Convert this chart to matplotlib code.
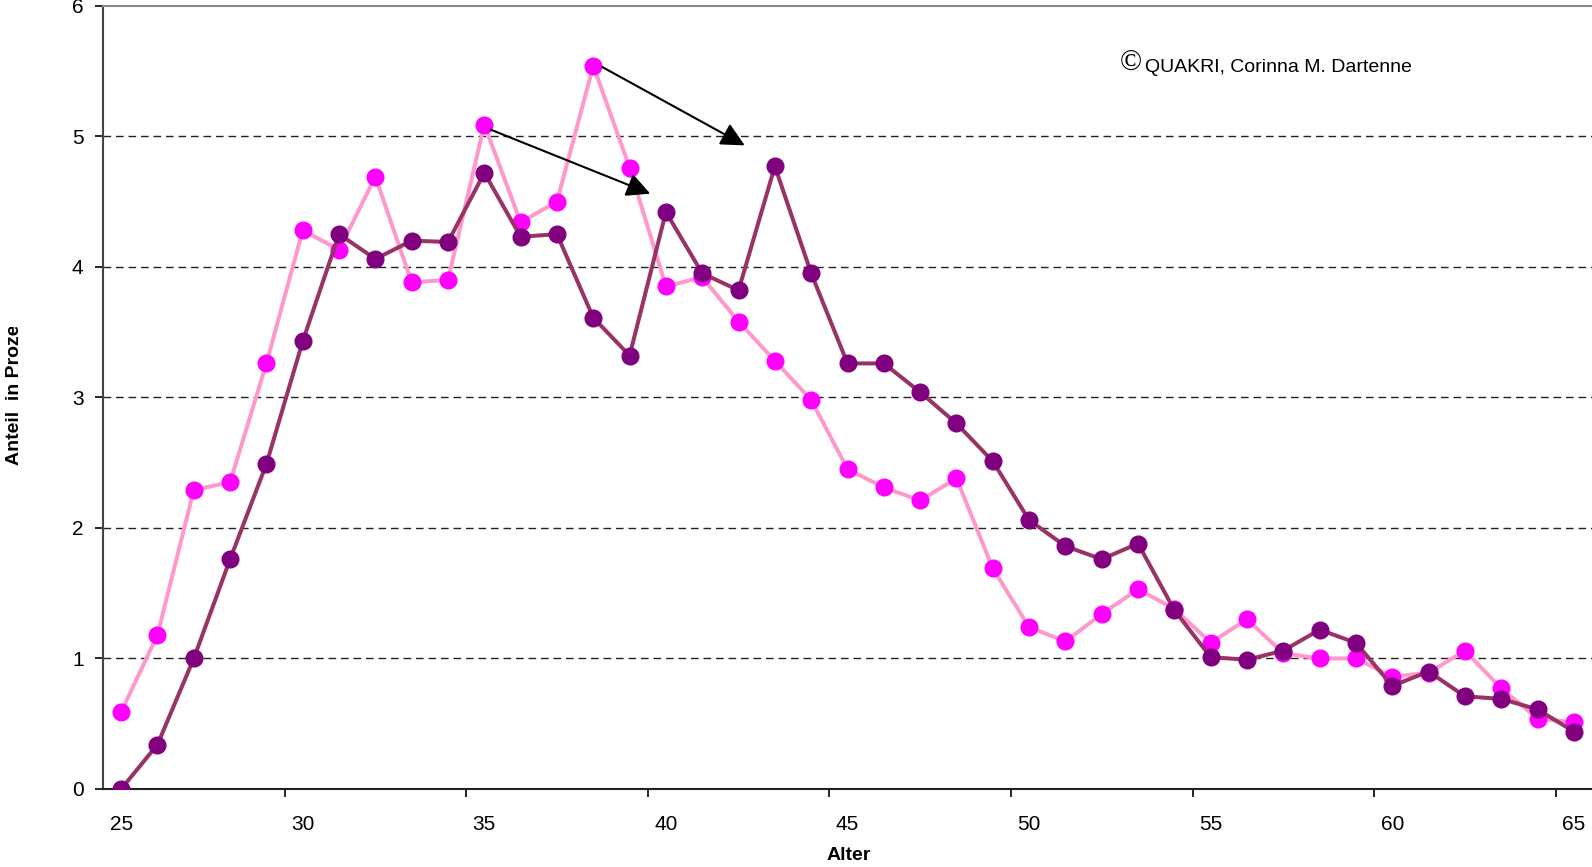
import numpy as np
import matplotlib
matplotlib.use("Agg")
import matplotlib.pyplot as plt
from matplotlib.transforms import Bbox, TransformedBbox

plt.rcParams['font.family'] = ['Liberation Sans', 'DejaVu Sans']
plt.rcParams['font.size'] = 15

# Alter 25..65
ages = list(range(25, 66))

# helle Reihe (rosa)
anteil_rosa = [0.59, 1.18, 2.29, 2.35, 3.26, 4.28, 4.13, 4.69, 3.88, 3.90,
               5.09, 4.34, 4.50, 5.54, 4.76, 3.85, 3.92, 3.58, 3.28, 2.98,
               2.45, 2.31, 2.21, 2.38, 1.69, 1.24, 1.13, 1.34, 1.53, 1.38,
               1.12, 1.30, 1.04, 1.00, 1.00, 0.86, 0.89, 1.06, 0.77, 0.54,
               0.51]

# dunkle Reihe (violett)
anteil_violett = [0.00, 0.34, 1.00, 1.76, 2.49, 3.43, 4.25, 4.06, 4.20, 4.19,
                  4.72, 4.23, 4.25, 3.61, 3.32, 4.42, 3.95, 3.82, 4.77, 3.95,
                  3.26, 3.26, 3.04, 2.80, 2.51, 2.06, 1.86, 1.76, 1.88, 1.37,
                  1.01, 0.99, 1.06, 1.22, 1.12, 0.79, 0.90, 0.71, 0.69, 0.61,
                  0.44]

x_ticks = [25, 30, 35, 40, 45, 50, 55, 60, 65]
y_ticks = [0, 1, 2, 3, 4, 5, 6]

W, H = 1592, 867
fig = plt.figure(figsize=(W / 100, H / 100), dpi=100)
ax = fig.add_axes([103 / W, 78 / H, 1 - 103 / W, (789 - 5.7) / H])

ax.plot(ages, anteil_rosa, color='#FF99CC', lw=2.9, marker='o', ms=12,
        mfc='#FF00FF', mec='#FF00FF', zorder=3)
ax.plot(ages, anteil_violett, color='#993366', lw=2.9, marker='o', ms=12,
        mfc='#800080', mec='#800080', zorder=4)

ax.set_xlim(24.5, 65.5)
ax.set_ylim(0, 6)
ax.set_yticks(y_ticks)
ax.set_xticks(x_ticks)
ax.set_xticks([x - 0.5 for x in x_ticks[1:]], minor=True)
ax.tick_params(axis='x', which='major', length=0, pad=19)
ax.tick_params(axis='x', which='minor', length=6, width=1.2, direction='out')
ax.tick_params(axis='y', length=6, width=1.2, direction='out', pad=8)

for y in y_ticks[1:-1]:
    ax.axhline(y, color='#222222', lw=1.0, ls=(0, (5.5, 3.5)), zorder=1)

ax.spines['right'].set_visible(False)
ax.spines['top'].set_color('#888888')
ax.spines['top'].set_linewidth(1.5)
ax.spines['left'].set_color('#444444')
ax.spines['left'].set_linewidth(1.5)
ax.spines['bottom'].set_color('#222222')
ax.spines['bottom'].set_linewidth(1.5)

# Pfeile
ax.annotate('', xy=(42.17, 4.93), xytext=(38.25, 5.53),
            arrowprops=dict(arrowstyle='-|>', color='black', lw=1.5,
                            mutation_scale=36, shrinkA=0, shrinkB=0))
ax.annotate('', xy=(39.57, 4.56), xytext=(35.18, 5.05),
            arrowprops=dict(arrowstyle='-|>', color='black', lw=1.5,
                            mutation_scale=36, shrinkA=0, shrinkB=0))

fig.text(1120 / W, 1 - 64 / H, '©', family='Liberation Serif', fontsize=21,
         ha='left', va='center')
fig.text(1145 / W, 1 - 67 / H, 'QUAKRI, Corinna M. Dartenne', fontsize=14,
         ha='left', va='center')

fig.text(849 / W, 1 - 856 / H, 'Alter', fontsize=14, weight='bold',
         ha='center', va='center')

ylab = fig.text(15 / W, 1 - 465 / H, 'Anteil  in Prozent', fontsize=14,
                weight='bold', rotation=90, ha='center', va='bottom')
ylab.set_clip_box(TransformedBbox(Bbox([[0, 0], [1, 1 - 327 / H]]),
                                  fig.transFigure))
ylab.set_clip_on(True)

fig.savefig('out.png', dpi=100)
